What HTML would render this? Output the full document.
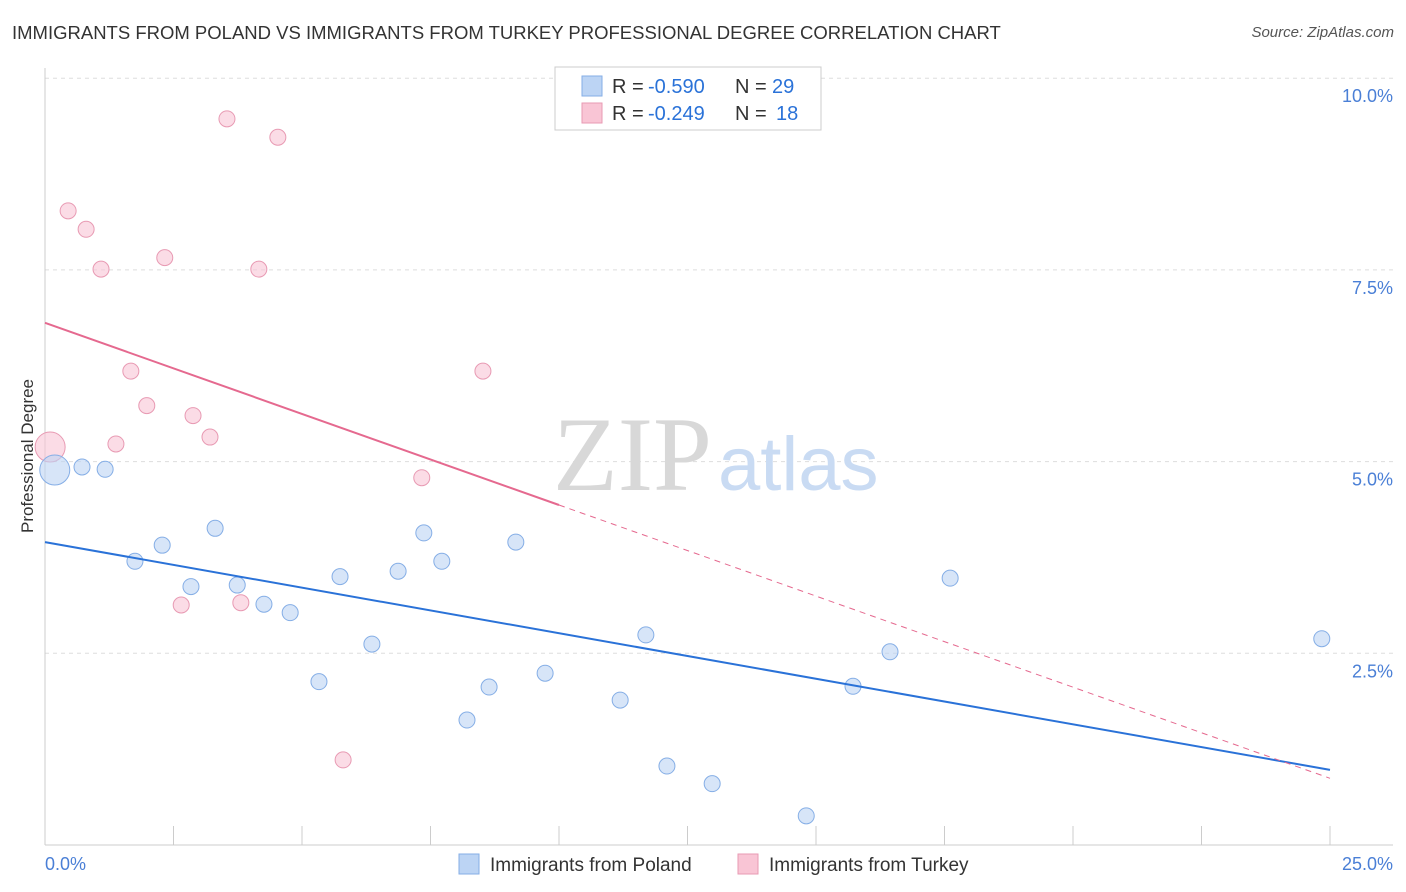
<!DOCTYPE html>
<html><head><meta charset="utf-8">
<style>
body{margin:0;background:#fff;font-family:"Liberation Sans",sans-serif;}
#wrap{position:relative;width:1406px;height:892px;overflow:hidden;}
.t{position:absolute;white-space:nowrap;}
</style></head><body>
<div id="wrap">
<div class="t" style="left:12px;top:22px;font-size:18.5px;color:#333;">IMMIGRANTS FROM POLAND VS IMMIGRANTS FROM TURKEY PROFESSIONAL DEGREE CORRELATION CHART</div>
<div class="t" style="right:12px;top:24px;font-size:15px;color:#555;font-style:italic;">Source: ZipAtlas.com</div>
<svg id="svg" width="1406" height="892" style="position:absolute;left:0;top:0"></svg>
</div>
<script>
const xTicks=[0,25];
const yTicks=[2.5,5.0,7.5,10.0];
const polandX=[0.19,0.72,1.17,1.75,2.28,2.84,3.31,3.74,4.26,4.77,5.33,5.74,6.36,6.87,7.37,7.72,8.21,8.64,9.16,9.73,11.19,11.69,12.10,12.98,14.81,15.72,16.44,17.61,24.84];
const polandY=[4.89,4.93,4.90,3.70,3.91,3.37,4.13,3.39,3.14,3.03,2.13,3.50,2.62,3.57,4.07,3.70,1.63,2.06,3.95,2.24,1.89,2.74,1.03,0.80,0.38,2.07,2.52,3.48,2.69];
const turkeyX=[0.10,0.45,0.80,1.09,1.38,1.67,1.98,2.33,2.65,2.88,3.21,3.54,3.81,4.16,4.53,5.80,7.33,8.52];
const turkeyY=[5.19,8.27,8.03,7.51,5.23,6.18,5.73,7.66,3.13,5.60,5.32,9.47,3.16,7.51,9.23,1.11,4.79,6.18];
const polandTrend=[3.95,0.98];
const turkeyTrend=[6.81,0.87];
const turkeySolidEnd=10.0;

const NS="http://www.w3.org/2000/svg";
const svg=document.getElementById('svg');
const X=v=>45+v*51.4;
const Y=v=>845-v*76.68;
function mk(tag,attrs){const e=document.createElementNS(NS,tag);for(const k in attrs)e.setAttribute(k,attrs[k]);svg.appendChild(e);return e;}
yTicks.forEach(v=>{
 const l=mk('line',{x1:45,x2:1393,y1:Y(v),y2:Y(v),stroke:'#ddd','stroke-dasharray':'4,4'});
 
 
 const t=mk('text',{x:1393,y:Y(v)+24,'text-anchor':'end','font-size':18,fill:'#4a7fd6'});
 t.textContent=v.toFixed(1)+'%';
 
 
});
let a=mk('line',{x1:45,x2:45,y1:68,y2:845,stroke:'#ccc'});

a=mk('line',{x1:45,x2:1393,y1:845,y2:845,stroke:'#ccc'});

for(let i=0;i<=10;i++){const tk=mk('line',{x1:X(i*2.5),x2:X(i*2.5),y1:826,y2:845,stroke:'#ccc'});
 
 }
xTicks.forEach((v,i)=>{const t=mk('text',{x:i==0?45:1393,y:870,'text-anchor':i==0?'start':'end','font-size':18,fill:'#4a7fd6'});
 t.textContent=v.toFixed(1)+'%';
 
 });
let yt=mk('text',{x:33,y:456,'text-anchor':'middle','font-size':17,fill:'#333',transform:'rotate(-90 33 456)'});
yt.textContent='Professional Degree';


let wm=mk('text',{x:553,y:490,'font-size':106,fill:'#d8d8d8','font-family':'Liberation Serif, serif'});
wm.textContent='ZIP';


wm=mk('text',{x:718,y:490,'font-size':76,fill:'#c9dbf3'});
wm.textContent='atlas';


function pts(xs,ys,fill,stroke,name){
 xs.forEach((x,i)=>{const r=i==0?15:8;const c=mk('circle',{cx:X(x),cy:Y(ys[i]),r:r,fill:fill,'fill-opacity':0.6,stroke:stroke,'stroke-width':1});
 
 });
}
pts(turkeyX,turkeyY,'#f9c5d5','#e89ab3','point-turkey');
pts(polandX,polandY,'#bcd4f4','#85aee6','point-poland');
let tl=mk('line',{x1:X(0),y1:Y(polandTrend[0]),x2:X(25),y2:Y(polandTrend[1]),stroke:'#2a72d8','stroke-width':2});

const tY=x=>turkeyTrend[0]+(turkeyTrend[1]-turkeyTrend[0])*x/25;
tl=mk('line',{x1:X(0),y1:Y(tY(0)),x2:X(turkeySolidEnd),y2:Y(tY(turkeySolidEnd)),stroke:'#e5698f','stroke-width':2});

tl=mk('line',{x1:X(turkeySolidEnd),y1:Y(tY(turkeySolidEnd)),x2:X(25),y2:Y(tY(25)),stroke:'#e5698f','stroke-width':1,'stroke-dasharray':'6,5'});

let lb=mk('rect',{x:555,y:67,width:266,height:63,fill:'#fff',stroke:'#ccc'});

[['#bcd4f4','#85aee6','-0.590','29',86],['#f9c5d5','#e89ab3','-0.249','18',113]].forEach(r=>{
 mk('rect',{x:582,y:r[4]-10,width:20,height:20,fill:r[0],stroke:r[1]});
 const parts=[['R =',612,'#333'],[r[2],648,'#2a72d8'],['N =',735,'#333'],[r[3],r[3]=='18'?776:772,'#2a72d8']];
 parts.forEach(p=>{
  const t=mk('text',{x:p[1],y:r[4]+7,'font-size':20,fill:p[2]});
  t.textContent=p[0];
  
  
 });
});
[['#bcd4f4','#85aee6','Immigrants from Poland',459],['#f9c5d5','#e89ab3','Immigrants from Turkey',738]].forEach(r=>{
 const s=mk('rect',{x:r[3],y:854,width:20,height:20,fill:r[0],stroke:r[1]});
 
 
 const t=mk('text',{x:r[3]+31,y:871,'font-size':19,fill:'#333'});
 t.textContent=r[2];
 
 
});
</script>
</body></html>
